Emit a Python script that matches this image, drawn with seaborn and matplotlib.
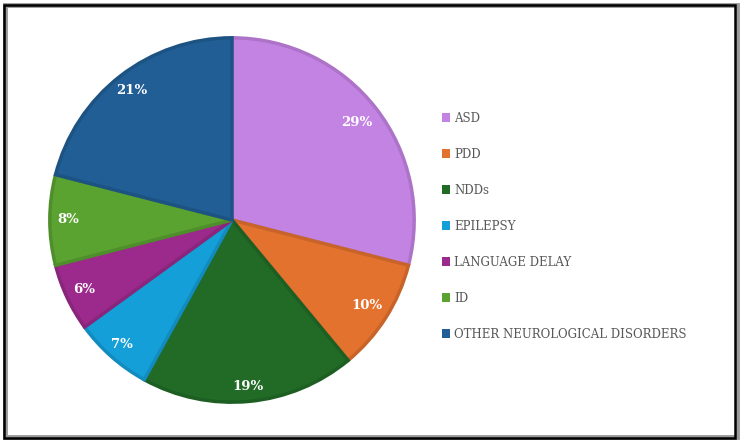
import matplotlib
matplotlib.use("Agg")
import numpy as np
import matplotlib.pyplot as plt
import matplotlib.colors as mcolors
from matplotlib.patches import Rectangle, Patch
import seaborn as sns

categories = ["ASD", "PDD", "NDDs", "EPILEPSY", "LANGUAGE DELAY", "ID",
              "OTHER NEUROLOGICAL DISORDERS"]
values = [29, 10, 19, 7, 6, 8, 21]
colors = ["#C383E3", "#E3722F", "#216B27", "#159FD9", "#9C2A8C", "#5AA331", "#215E95"]
label_dist = [0.87, 0.88, 0.92, 0.91, 0.90, 0.90, 0.90]

sns.set_theme(style="white")
plt.rcParams['font.family'] = ['DejaVu Serif']

fig = plt.figure(figsize=(7.41, 4.42), dpi=100)
W, H = 741, 442
cx, cy, R = 232, 220, 184
ax = fig.add_axes([(cx - R) / W, (H - cy - R) / H, 2 * R / W, 2 * R / H])

def darker(c, f=0.88):
    r, g, b = mcolors.to_rgb(c)
    return (r * f, g * f, b * f)

wedges, texts, autotexts = ax.pie(
    values, colors=colors, startangle=90, counterclock=False,
    autopct=lambda p: f"{p:.0f}%", pctdistance=0.87,
    wedgeprops=dict(linewidth=2.5),
    textprops=dict(color="white", fontsize=9.5, fontweight="bold"),
)
for w, c, t, d in zip(wedges, colors, autotexts, label_dist):
    w.set_edgecolor(darker(c))
    ang = np.deg2rad((w.theta1 + w.theta2) / 2)
    t.set_position((d * np.cos(ang), d * np.sin(ang)))
ax.set_xlim(-1.01, 1.01)
ax.set_ylim(-1.01, 1.01)
ax.set_aspect("equal")
ax.axis("off")

handles = [Patch(facecolor=c, edgecolor="none") for c in colors]
leg = fig.legend(handles, categories, loc="upper left",
                 bbox_to_anchor=(431 / W, 1 - 101 / H), frameon=False,
                 fontsize=8.5, labelspacing=1.95, handlelength=0.75,
                 handleheight=0.75, handletextpad=0.3)
for t in leg.get_texts():
    t.set_color("#595959")

fig.patches.append(Rectangle((5 / W, 5 / H), 732 / W, 432 / H, transform=fig.transFigure,
                             fill=False, edgecolor="#9a9a9a", linewidth=3.5, zorder=0))
fig.patches.append(Rectangle((4 / W, 4 / H), 731 / W, 433 / H, transform=fig.transFigure,
                             fill=False, edgecolor="black", linewidth=1.8, zorder=1))

fig.savefig("out.png", dpi=100)
